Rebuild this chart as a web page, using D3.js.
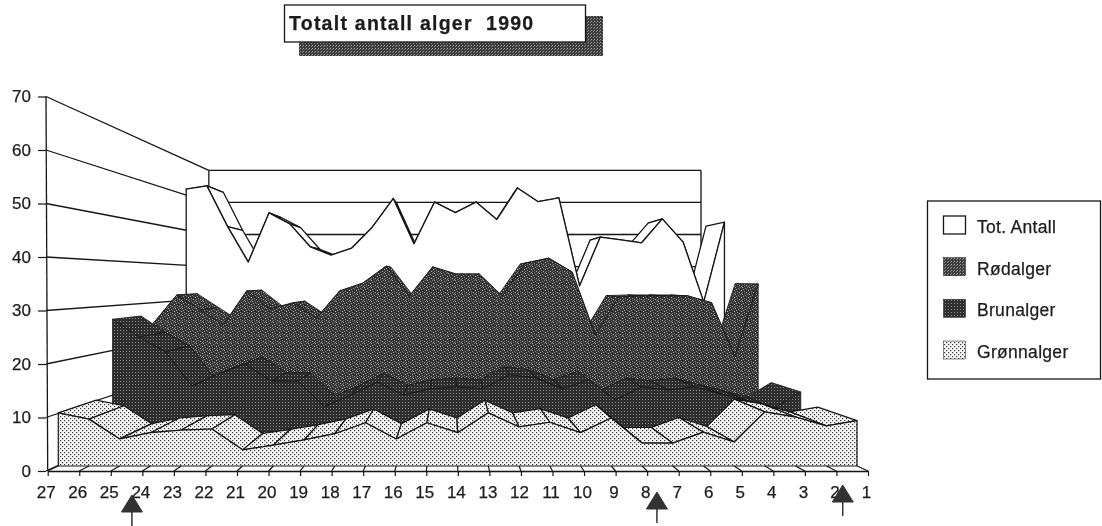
<!DOCTYPE html>
<html>
<head>
<meta charset="utf-8">
<script src="https://cdnjs.cloudflare.com/ajax/libs/d3/7.8.5/d3.min.js"></script>
<style>
  html, body { margin: 0; background: #fff; }
  svg { display: block; }
  text { font-family: "Liberation Sans", Arial, sans-serif; fill: #1c1c1c; stroke: #1c1c1c; stroke-width: 0.25px; }
</style>
</head>
<body>
<svg></svg>
<script>
const days = d3.range(27, 0, -1);
const yTicks = [0, 10, 20, 30, 40, 50, 60, 70];
const legendNames = ["Tot. Antall", "Rødalger", "Brunalger", "Grønnalger"];
const arrowDays = [24.33, 7.69, 1.8];

const totAntall = [61.7, 62.6, 51.0, 40.9, 54.9, 51.8, 45.2, 42.9, 44.9, 50.9, 59.0, 46.1, 58.0, 55.0, 58.0, 53.0, 62.0, 58.1, 59.2, 34.1, 48.0, 47.2, 46.4, 53.2, 46.6, 29.5, 52.3];
const rodalger = [24.9, 32.0, 28.2, 24.4, 33.0, 28.4, 30.0, 26.1, 33.0, 35.0, 39.3, 31.7, 39.1, 37.3, 37.3, 31.7, 40.1, 41.3, 37.8, 21.8, 31.5, 31.7, 31.7, 31.7, 30.0, 16.3, 34.8];
const brunalger = [27.0, 23.0, 19.7, 12.1, 14.8, 17.0, 13.2, 13.2, 7.5, 10.1, 13.0, 10.1, 11.5, 11.9, 11.5, 14.6, 13.9, 11.5, 13.5, 9.0, 11.9, 11.2, 11.9, 10.3, 8.8, 7.2, 10.8];
const gronnalger = [10.2, 9.0, 5.2, 6.4, 6.9, 7.1, 3.1, 4.0, 5.0, 6.2, 8.3, 5.2, 8.3, 6.4, 10.2, 7.5, 8.4, 6.4, 9.2, 4.4, 4.4, 6.5, 4.6, 10.4, 9.4, 7.7, 8.7];

const width = 1102;
const height = 526;
const ink = "#161616";

const canvas = d3.select("svg").attr("width", width).attr("height", height);
const defs = canvas.append("defs");
defs.append("filter").attr("id", "scan").append("feGaussianBlur").attr("stdDeviation", 0.35);

// halftone fills, like the old laser print
function halftone(id, size, bg, dots, color, dotSize) {
  const p = defs.append("pattern").attr("id", id)
    .attr("width", size).attr("height", size).attr("patternUnits", "userSpaceOnUse");
  p.append("rect").attr("width", size).attr("height", size).attr("fill", bg);
  p.selectAll("rect.dot").data(dots).enter().append("rect").attr("class", "dot")
    .attr("x", d => d[0]).attr("y", d => d[1])
    .attr("width", dotSize || 1).attr("height", dotSize || 1)
    .attr("fill", d => d[2] || color);
}
halftone("green", 4, "#f6f6f6", [[0, 0], [2, 2]], "#3a3a3a", 1.2);
halftone("brown", 3, "#2e2e2e", [[0, 0]], "#8c8c8c");
halftone("red", 7, "#353535",
  [[0, 0, "#aaa"], [3, 1, "#888"], [5, 0, "#777"], [1, 2, "#999"], [6, 3, "#bbb"], [2, 4, "#888"], [4, 5, "#aaa"], [0, 5, "#777"], [6, 6, "#888"], [3, 3, "#1c1c1c"], [1, 6, "#1c1c1c"], [4, 2, "#666"], [2, 6, "#777"]]);
halftone("swatchRed", 3, "#3c3c3c", [[0, 0, "#a0a0a0"], [2, 1, "#808080"]], "#777");

const root = canvas.append("g").attr("filter", "url(#scan)");

// front plane of the box
const xDay = d3.scaleLinear().domain([27, 1]).range([47.7, 868]);
const yVal = d3.scaleLinear().domain([0, 70]).range([471, 96.5]);

// perspective: depth is 1/scale towards the vanishing point
const vpX = 450.5;
const vpY = 281;
const px = (day, depth) => vpX + (xDay(day) - vpX) / depth;
const py = (v, depth) => vpY + (yVal(v) - vpY) / depth;

const backDepth = 1 / 0.6;
const slot = 0.11;

const series = [
  { values: totAntall, depth: 1.524, fill: "#fff", lw: 1.3 },
  { values: rodalger, depth: 1.357, fill: "url(#red)", lw: 0.8 },
  { values: brunalger, depth: 1.192, fill: "url(#brown)", lw: 0.8 },
  { values: gronnalger, depth: 1.027, fill: "url(#green)", lw: 1.2 }
];

const walls = root.append("g").attr("fill", "none").attr("stroke", ink).attr("stroke-width", 1.3);

// gridlines on the left and back walls
walls.selectAll("path.left").data(yTicks).enter().append("path").attr("class", "left")
  .attr("d", d => d3.line()([[xDay(27) - 1.7, yVal(d)], [px(27, backDepth), py(d, backDepth)]]));
walls.selectAll("path.back").data(yTicks).enter().append("path").attr("class", "back")
  .attr("d", d => d3.line()([[px(27, backDepth), py(d, backDepth)], [px(1, backDepth), py(d, backDepth)]]));
walls.append("path").attr("d", d3.line()([[px(27, backDepth), py(0, backDepth)], [px(27, backDepth), py(70, backDepth)]]));
walls.append("path").attr("d", d3.line()([[px(1, backDepth), py(0, backDepth)], [px(1, backDepth), py(70, backDepth)]]));
walls.append("path").attr("d", d3.line()([[xDay(27) - 1.7, yVal(70)], [xDay(27), yVal(0)]]));

// ribbons back to front
series.forEach(s => {
  const g = root.append("g").attr("stroke", ink).attr("stroke-width", s.lw).attr("stroke-linejoin", "round");
  const back = s.depth + slot;

  // top surfaces, the outer ones first so the middle ones lie on top
  const segs = d3.range(days.length - 1)
    .sort((a, b) => Math.abs(px(days[b], 1) - vpX) - Math.abs(px(days[a], 1) - vpX));
  g.selectAll("path.top").data(segs).enter().append("path").attr("class", "top")
    .attr("fill", s.fill)
    .attr("d", i => d3.line()([
      [px(days[i], s.depth), py(s.values[i], s.depth)],
      [px(days[i + 1], s.depth), py(s.values[i + 1], s.depth)],
      [px(days[i + 1], back), py(s.values[i + 1], back)],
      [px(days[i], back), py(s.values[i], back)]
    ]) + "Z");

  // front face
  const area = d3.area()
    .x((d, i) => px(days[i], s.depth))
    .y0(py(0, s.depth))
    .y1(d => py(d, s.depth));
  g.append("path").attr("fill", s.fill).attr("d", area(s.values));
});

// floor strip in front of the first ribbon
const floor = root.append("g").attr("fill", "none").attr("stroke", ink).attr("stroke-width", 1.2);
floor.selectAll("path").data(days).enter().append("path")
  .attr("d", d => d3.line()([[xDay(d), yVal(0)], [px(d, 1.027), py(0, 1.027)]]));

const xAxis = d3.axisBottom(xDay).tickValues(days).tickSize(5).tickSizeOuter(0).tickFormat(d3.format("d"));
const xG = root.append("g").attr("transform", `translate(0,${yVal(0)})`).call(xAxis);
xG.select(".domain").attr("stroke", ink).attr("stroke-width", 1.3);
xG.selectAll(".tick line").attr("stroke", ink).attr("stroke-width", 1.2);
xG.selectAll(".tick text").attr("font-size", 17).attr("y", 14.5).attr("dx", -2).attr("fill", ink);

const yAxis = d3.axisLeft(yVal).tickValues(yTicks).tickSize(8).tickSizeOuter(0);
const yG = root.append("g").attr("transform", `translate(${xDay(27) - 1.7},0)`).call(yAxis);
yG.select(".domain").remove();
yG.selectAll(".tick line").attr("stroke", ink).attr("stroke-width", 1.2);
yG.selectAll(".tick text").attr("font-size", 17).attr("x", -15).attr("fill", ink);

// arrows under the axis
const arrowTop = [495, 492, 485];
const arrows = root.append("g");
arrowDays.forEach((d, i) => {
  const x = xDay(d);
  const y = arrowTop[i];
  arrows.append("path").attr("fill", "#333").attr("stroke", "#333")
    .attr("d", d3.line()([[x, y], [x + 10.5, y + 17], [x - 10.5, y + 17]]) + "Z");
  arrows.append("path").attr("stroke", ink).attr("stroke-width", 1.3)
    .attr("d", d3.line()([[x, y + 17], [x, y + 31]]));
});

// title box with its drop shadow
const title = root.append("g");
title.append("rect").attr("x", 299).attr("y", 16).attr("width", 304).attr("height", 40).attr("fill", "url(#swatchRed)");
title.append("rect").attr("x", 284.5).attr("y", 5).attr("width", 301).attr("height", 37)
  .attr("fill", "#fff").attr("stroke", ink).attr("stroke-width", 1.3);
title.append("text").attr("x", 289).attr("y", 30).attr("font-size", 19.5).attr("font-weight", "bold")
  .attr("letter-spacing", 1.25).attr("xml:space", "preserve").text("Totalt antall alger  1990");

// legend
const legend = root.append("g");
legend.append("rect").attr("x", 927.5).attr("y", 201).attr("width", 173).attr("height", 178)
  .attr("fill", "#fff").attr("stroke", ink).attr("stroke-width", 1.3);
const legendFill = ["#fff", "url(#swatchRed)", "url(#brown)", "url(#green)"];
const legendY = d3.scalePoint().domain(legendNames).range([225, 350]);
legendNames.forEach((n, i) => {
  legend.append("rect").attr("x", 943.5).attr("y", legendY(n) - 9).attr("width", 22).attr("height", 18)
    .attr("fill", legendFill[i]).attr("stroke", ink).attr("stroke-width", i === 0 ? 1.3 : 0.5);
  legend.append("text").attr("x", 977).attr("y", legendY(n) + 8).attr("font-size", 17.5)
    .attr("letter-spacing", 0.3).text(n);
});
</script>
</body>
</html>
